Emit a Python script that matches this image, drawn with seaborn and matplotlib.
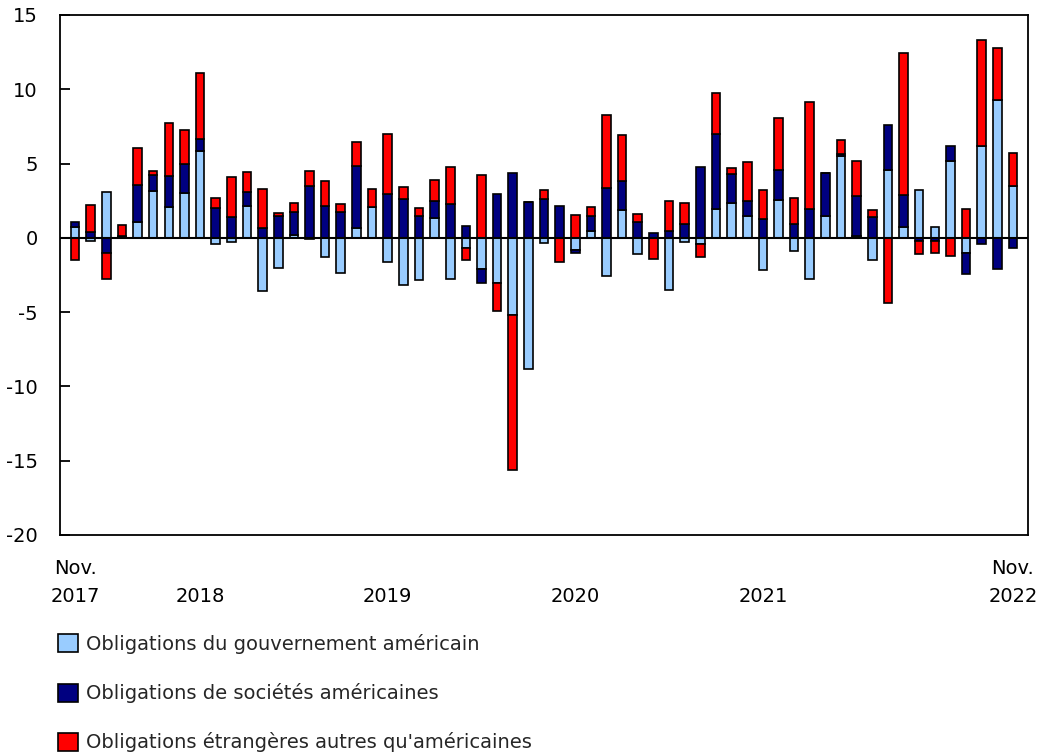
import numpy as np
import pandas as pd
import matplotlib
matplotlib.use("Agg")
import matplotlib.pyplot as plt
from matplotlib.patches import Patch
import seaborn as sns

months = pd.date_range("2017-11-01", "2022-11-01", freq="MS").strftime("%Y-%m").tolist()

gov = [0.75, -0.2, 3.1, 0.05, 1.05, 3.15, 2.05, 3.05, 5.85, -0.4,
       -0.3, 2.15, -3.6, -2.0, 0.2, -0.1, -1.3, -2.35, 0.65, 2.1,
       -1.6, -3.2, -2.85, 1.35, -2.75, -0.67, -2.1, -3.05, -5.2, -8.8,
       -0.35, 0.0, -0.8, 0.45, -2.6, 1.85, -1.1, 0.0, -3.5, -0.3,
       -0.4, 1.95, 2.35, 1.5, -2.15, 2.55, -0.9, -2.75, 1.5, 5.5,
       0.15, -1.5, 4.55, 0.75, 3.25, 0.7, 5.2, -1.0, 6.2, 9.3, 3.5]
corp = [0.33, 0.4, -1.0, 0.1, 2.5, 1.05, 2.1, 1.9, 0.8, 2.0,
        1.4, 0.95, 0.67, 1.5, 1.55, 3.5, 2.15, 1.75, 4.2, 0.0,
        2.95, 2.6, 1.5, 1.1, 2.3, 0.78, -0.95, 2.95, 4.35, 2.4,
        2.6, 2.15, -0.25, 1.0, 3.35, 1.95, 1.1, 0.36, 0.45, 0.95,
        4.8, 5.05, 1.95, 0.95, 1.3, 2.05, 0.9, 1.95, 2.85, 0.15,
        2.7, 1.4, 3.05, 2.15, -0.2, -0.2, 1.0, -1.4, -0.4, -2.1, -0.7]
foreign = [-1.5, 1.8, -1.8, 0.7, 2.5, 0.3, 3.6, 2.3, 4.45, 0.7,
           2.7, 1.3, 2.6, 0.15, 0.6, 1.0, 1.7, 0.5, 1.6, 1.2,
           4.05, 0.8, 0.5, 1.45, 2.5, -0.85, 4.25, -1.9, -10.45, 0.0,
           0.6, -1.6, 1.55, 0.6, 4.9, 3.1, 0.5, -1.4, 2.05, 1.4,
           -0.9, 2.75, 0.4, 2.65, 1.9, 3.5, 1.8, 7.2, 0.0, 0.95,
           2.3, 0.5, -4.4, 9.55, -0.9, -0.8, -1.2, 1.95, 7.1, 3.5, 2.2]

series_names = ["Obligations du gouvernement américain",
                "Obligations de sociétés américaines",
                "Obligations étrangères autres qu'américaines"]
series_colors = ["#99CCFF", "#000080", "#FF0000"]

tick_pos = [0, 8, 20, 32, 44, 60]
tick_labels = ["Nov.\n2017", "\n2018", "\n2019", "\n2020", "\n2021", "Nov.\n2022"]
y_ticks = [-20, -15, -10, -5, 0, 5, 10, 15]

sns.set_theme(style="white")
plt.rcParams["font.family"] = ["DejaVu Sans"]

FS = 14

fig = plt.figure(figsize=(10.42, 7.56), dpi=100)
ax = fig.add_axes([60 / 1042, 1 - 535 / 756, 968 / 1042, 520 / 756])

pos_base = np.zeros(len(months))
neg_base = np.zeros(len(months))
for vals, name, col in zip([gov, corp, foreign], series_names, series_colors):
    v = np.array(vals, dtype=float)
    bottom = np.where(v >= 0, pos_base, neg_base)
    sns.barplot(x=months, y=v, bottom=bottom, color=col, saturation=1,
                width=0.55, edgecolor="black", linewidth=1.2,
                errorbar=None, ax=ax)
    pos_base = pos_base + np.where(v >= 0, v, 0)
    neg_base = neg_base + np.where(v < 0, v, 0)

ax.axhline(0, color="black", linewidth=1.5, zorder=5)
ax.set_xlim(-0.96, len(months) - 1 + 0.96)
ax.set_ylim(-20, 15)
ax.set_yticks(y_ticks)
ax.set_yticklabels([str(t) for t in y_ticks])
ax.set_xticks(tick_pos)
ax.set_xticklabels(tick_labels, linespacing=1.62)
ax.set_xlabel("")
ax.set_ylabel("")
ax.tick_params(axis="y", direction="in", length=7, width=1.3, pad=16,
               labelsize=FS, left=True, colors="black")
ax.tick_params(axis="x", length=0, pad=17, labelsize=FS, colors="black")
for s in ax.spines.values():
    s.set_visible(True)
    s.set_color("black")
    s.set_linewidth(1.3)

handles = [Patch(facecolor=c, edgecolor="black", linewidth=1.2) for c in series_colors]
fig.legend(handles, series_names, loc="upper left",
           bbox_to_anchor=(58 / 1042, 1 - 634 / 756), frameon=False,
           fontsize=FS, handlelength=1.05, handleheight=1.05,
           handletextpad=0.4, labelspacing=1.5, borderpad=0, borderaxespad=0)

fig.savefig("out.png", dpi=100, facecolor="white")
